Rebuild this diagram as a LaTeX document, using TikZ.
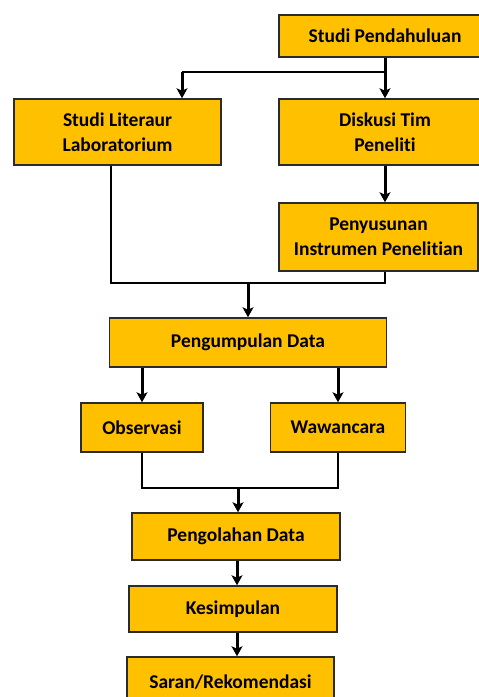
\documentclass[tikz,border=0pt]{standalone}
\usepackage{fontspec}
\setmainfont[Ligatures=NoCommon]{Carlito}
\usepackage{tikz}
\usetikzlibrary{arrows.meta}
\definecolor{boxgold}{HTML}{FFC000}
\definecolor{boxline}{HTML}{2B2B2B}

\begin{document}
\begin{tikzpicture}[x=1pt,y=-1pt,
    box/.style={draw=boxline,line width=1.5pt,fill=boxgold,align=center,
      inner sep=0pt,font=\fontsize{19.5}{25}\selectfont\bfseries},
    arr/.style={line width=3pt,-{Stealth[length=10pt,width=11pt,inset=2.5pt]}},
    ln/.style={line width=1.4pt}]
       \useasboundingbox (0,0) rectangle (479,697);
       \node[box,minimum width=212pt,minimum height=42pt] (pend) at (385,36) {Studi Pendahuluan};
       \node[box,minimum width=207pt,minimum height=66pt] (lit) at (117.5,132) {Studi Literaur\\Laboratorium};
       \node[box,minimum width=212pt,minimum height=66pt] (disk) at (385,132) {Diskusi Tim\\Peneliti};
       \node[box,minimum width=199pt,minimum height=68pt] (peny) at (378.5,237) {Penyusunan\\Instrumen Penelitian};
       \node[box,minimum width=277pt,minimum height=49pt] (kumpul) at (248,342.5) {Pengumpulan Data};
       \node[box,minimum width=122pt,minimum height=49pt] (obs) at (142,427.5) {Observasi};
       \node[box,minimum width=135pt,minimum height=49pt] (waw) at (338,427.5) {Wawancara};
       \node[box,minimum width=208pt,minimum height=47pt] (olah) at (236,536.5) {Pengolahan Data};
       \node[box,minimum width=208pt,minimum height=46pt] (kes) at (233,609) {Kesimpulan};
       \node[box,minimum width=207pt,minimum height=50pt] (saran) at (230.5,682) {Saran/Rekomendasi};
       % cabang dari studi pendahuluan
       \coordinate (fork) at (385,72);
       \coordinate (litin) at ([xshift=64.5pt]lit.north);
       \draw[arr] (pend.south) -- (disk.north);
       \draw[ln] (fork) -- (fork -| litin);
       \draw[arr] (fork -| litin) -- (litin);
       \draw[arr] (disk.south) -- (disk.south |- peny.north);
       % gabung ke pengumpulan data
       \coordinate (join1) at (248,283);
       \draw[ln] ([xshift=-6.5pt]lit.south) |- (join1) -| ([xshift=6.5pt]peny.south);
       \draw[arr] (join1) -- (kumpul.north);
       \draw[arr] (obs.north |- kumpul.south) -- (obs.north);
       \draw[arr] (waw.north |- kumpul.south) -- (waw.north);
       % gabung ke pengolahan data
       \coordinate (join2) at (238,488);
       \draw[ln] (obs.south) |- (join2) -| (waw.south);
       \draw[arr] (join2) -- (join2 |- olah.north);
       \draw[arr] ([xshift=1pt]olah.south) -- ([xshift=1pt]olah.south |- kes.north);
       \draw[arr] ([xshift=4pt]kes.south) -- ([xshift=4pt]kes.south |- saran.north);
      \end{tikzpicture}
\end{document}
